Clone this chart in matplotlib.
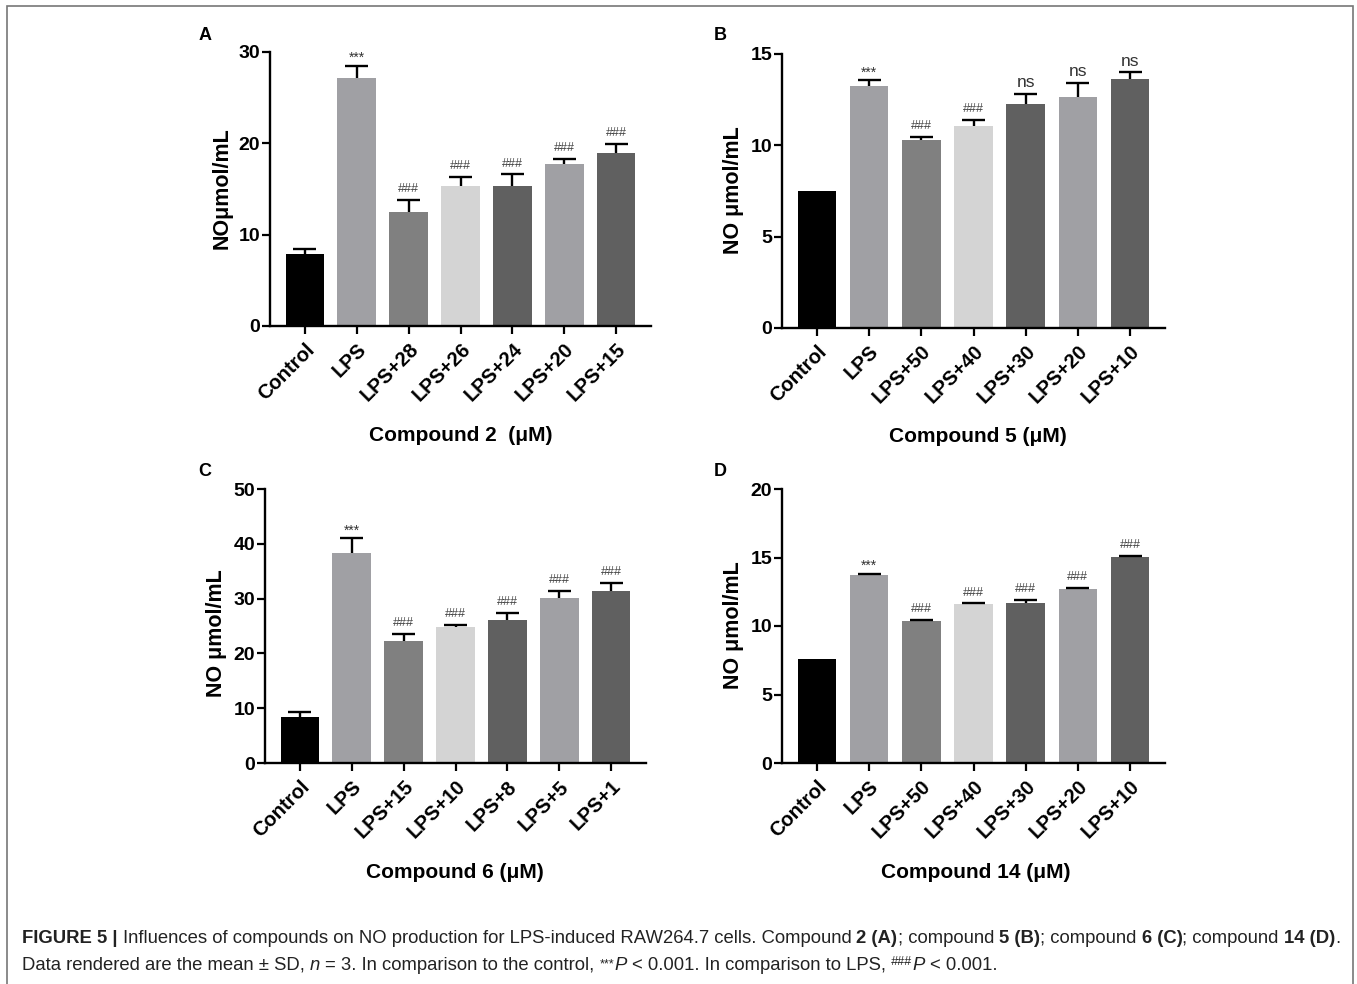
import matplotlib
matplotlib.use('Agg')
import matplotlib.pyplot as plt
from matplotlib.patches import Rectangle
from matplotlib.transforms import IdentityTransform
import numpy as np

plt.rcParams['font.family'] = ['Liberation Sans', 'DejaVu Sans']

W, H = 1357, 984

# ---- data ----
labels_a = ['Control', 'LPS', 'LPS+28', 'LPS+26', 'LPS+24', 'LPS+20', 'LPS+15']
means_a = [7.85, 27.1, 12.5, 15.35, 15.35, 17.7, 18.9]
sd_a = [0.55, 1.4, 1.3, 0.95, 1.25, 0.6, 1.0]
marks_a = ['', '***', '###', '###', '###', '###', '###']

labels_b = ['Control', 'LPS', 'LPS+50', 'LPS+40', 'LPS+30', 'LPS+20', 'LPS+10']
means_b = [7.48, 13.27, 10.31, 11.08, 12.26, 12.65, 13.63]
sd_b = [0, 0.28, 0.16, 0.29, 0.57, 0.77, 0.38]
marks_b = ['', '***', '###', '###', 'ns', 'ns', 'ns']

labels_c = ['Control', 'LPS', 'LPS+15', 'LPS+10', 'LPS+8', 'LPS+5', 'LPS+1']
means_c = [8.33, 38.3, 22.3, 24.75, 26.1, 30.1, 31.3]
sd_c = [0.9, 2.7, 1.2, 0.5, 1.3, 1.3, 1.5]
marks_c = ['', '***', '###', '###', '###', '###', '###']

labels_d = ['Control', 'LPS', 'LPS+50', 'LPS+40', 'LPS+30', 'LPS+20', 'LPS+10']
means_d = [7.59, 13.75, 10.34, 11.6, 11.65, 12.72, 15.06]
sd_d = [0, 0.05, 0.1, 0.05, 0.25, 0.06, 0.07]
marks_d = ['', '***', '###', '###', '###', '###', '###']

bar_colors = ['#000000', '#a0a0a4', '#808080', '#d4d4d4', '#606060', '#a0a0a4', '#606060']

fig = plt.figure(figsize=(W / 100, H / 100), dpi=100)


def fx(x):
    return x / W


def fy(y):
    return 1 - y / H


def draw_panel(box, labels, means, sds, marks, yticks, letter, letter_xy, ylabel, ylabel_xy, xlabel, xlabel_xy):
    left, top, right, bottom = box
    ax = fig.add_axes([fx(left), fy(bottom), (right - left) / W, (bottom - top) / H])
    x = np.arange(len(labels))
    ax.bar(x, means, width=0.74, color=bar_colors, edgecolor='none', zorder=2)
    for xi, m, s, mk in zip(x, means, sds, marks):
        if s > 0:
            ax.vlines(xi, m, m + s, colors='black', lw=1.7, zorder=3)
            ax.hlines(m + s, xi - 0.22, xi + 0.22, colors='black', lw=1.7, zorder=3)
        if mk == '***':
            ax.annotate(mk, (xi, m + s), xytext=(0, 0.5), textcoords='offset points',
                        ha='center', va='bottom', fontsize=10, color='#333333')
        elif mk == '###':
            ax.annotate(mk, (xi, m + s), xytext=(0, 3.5), textcoords='offset points',
                        ha='center', va='bottom', fontsize=9, color='#444444')
        elif mk == 'ns':
            ax.annotate(mk, (xi, m + s), xytext=(0, 2.5), textcoords='offset points',
                        ha='center', va='bottom', fontsize=12.5, color='#333333')
    ax.set_xlim(-0.67, len(labels) - 1 + 0.67)
    ax.set_ylim(0, yticks[-1])
    ax.set_yticks(yticks)
    ax.set_xticks(x)
    ax.set_xticklabels(labels, rotation=45, ha='right', rotation_mode='anchor')
    for sp in ['top', 'right']:
        ax.spines[sp].set_visible(False)
    for sp in ['left', 'bottom']:
        ax.spines[sp].set_linewidth(1.7)
    ax.tick_params(direction='out', length=6, width=1.6, labelsize=14)
    ax.tick_params(axis='y', pad=1)
    ax.tick_params(axis='x', pad=4, labelsize=14.5)
    for t in ax.get_xticklabels() + ax.get_yticklabels():
        t.set_fontweight('bold')
    fig.text(fx(letter_xy[0]), fy(letter_xy[1]), letter, fontsize=13, fontweight='bold',
             ha='center', va='center')
    fig.text(fx(ylabel_xy[0]), fy(ylabel_xy[1]), ylabel, fontsize=15.5, fontweight='bold',
             rotation=90, ha='center', va='center')
    fig.text(fx(xlabel_xy[0]), fy(xlabel_xy[1]), xlabel, fontsize=15, fontweight='bold',
             ha='center', va='center')
    return ax


draw_panel((270, 52, 651, 326), labels_a, means_a, sd_a, marks_a, [0, 10, 20, 30],
           'A', (205, 35), 'NOμmol/mL', (222, 188), 'Compound 2  (μM)', (461, 435))
draw_panel((782, 54, 1165, 328), labels_b, means_b, sd_b, marks_b, [0, 5, 10, 15],
           'B', (720, 35), 'NO μmol/mL', (733, 190), 'Compound 5 (μM)', (978, 437))
draw_panel((265, 489, 646, 763), labels_c, means_c, sd_c, marks_c, [0, 10, 20, 30, 40, 50],
           'C', (205, 471), 'NO μmol/mL', (217, 633), 'Compound 6 (μM)', (455, 872))
draw_panel((782, 489, 1165, 763), labels_d, means_d, sd_d, marks_d, [0, 5, 10, 15, 20],
           'D', (720, 471), 'NO μmol/mL', (733, 625), 'Compound 14 (μM)', (976, 872))

# outer frame
fig.add_artist(Rectangle((fx(7), -0.02), fx(1353) - fx(7), fy(6) + 0.02,
                         transform=fig.transFigure, fill=False, edgecolor='#777777', lw=1.2))

# caption with mixed styles, laid out segment by segment
renderer = fig.canvas.get_renderer()
cap_size = 13.3


def text_width(s, **kw):
    t = fig.text(0, 0, s, transform=IdentityTransform(), **kw)
    w = t.get_window_extent(renderer).width
    t.remove()
    return w


def caption_line(segments, x0, baseline):
    x = x0
    y = H - baseline
    for txt, weight, style, size, rise in segments:
        kw = dict(fontsize=size, fontweight=weight, fontstyle=style)
        sp = text_width('a a', **kw) - text_width('aa', **kw)
        core = txt.strip(' ')
        x += (len(txt) - len(txt.lstrip(' '))) * sp
        if core:
            t = fig.text(x, y + rise, core, transform=IdentityTransform(), va='baseline', ha='left',
                         color='#222222', **kw)
            x += t.get_window_extent(renderer).width
        x += (len(txt) - len(txt.rstrip(' '))) * sp


line1 = [
    ('FIGURE 5 | ', 'bold', 'normal', cap_size, 0),
    ('Influences of compounds on NO production for LPS-induced RAW264.7 cells. Compound ', 'normal', 'normal', cap_size, 0),
    ('2 (A)', 'bold', 'normal', cap_size, 0),
    ('; compound ', 'normal', 'normal', cap_size, 0),
    ('5 (B)', 'bold', 'normal', cap_size, 0),
    ('; compound ', 'normal', 'normal', cap_size, 0),
    ('6 (C)', 'bold', 'normal', cap_size, 0),
    ('; compound ', 'normal', 'normal', cap_size, 0),
    ('14 (D)', 'bold', 'normal', cap_size, 0),
    ('.', 'normal', 'normal', cap_size, 0),
]
line2 = [
    ('Data rendered are the mean ± SD, ', 'normal', 'normal', cap_size, 0),
    ('n', 'normal', 'italic', cap_size, 0),
    (' = 3. In comparison to the control, ', 'normal', 'normal', cap_size, 0),
    ('***', 'normal', 'normal', 9, 3),
    ('P', 'normal', 'italic', cap_size, 0),
    (' < 0.001. In comparison to LPS, ', 'normal', 'normal', cap_size, 0),
    ('###', 'normal', 'italic', 9, 5),
    ('P', 'normal', 'italic', cap_size, 0),
    (' < 0.001.', 'normal', 'normal', cap_size, 0),
]
caption_line(line1, 22, 943)
caption_line(line2, 22, 970)

fig.savefig('out.png', dpi=100)
